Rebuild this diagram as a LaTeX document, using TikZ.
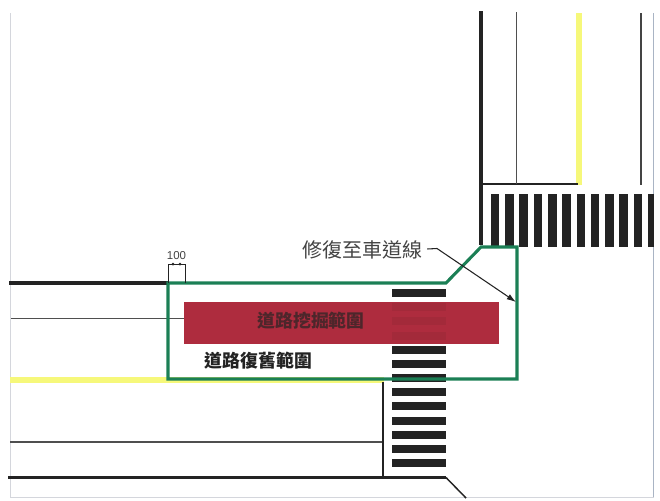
\documentclass[tikz,border=0pt]{standalone}
\usetikzlibrary{arrows.meta}
\usepackage{fontspec}
\newfontfamily\cjk{Noto Sans CJK TC}
\setsansfont{Liberation Sans}
\definecolor{grn}{HTML}{1B7F55}
\definecolor{roadred}{HTML}{AE2C3E}
\definecolor{band}{HTML}{A32A3A}
\definecolor{yel}{HTML}{F6F87A}
\definecolor{ink}{HTML}{232323}
\definecolor{framec}{HTML}{D4D6DC}
\definecolor{framer}{HTML}{A9B4C4}
\tikzset{
  thickroad/.style={draw=ink,line width=2.4pt},
  thinroad/.style={draw=ink!80,line width=0.9pt},
  yellowline/.style={draw=yel,line width=4.4pt},
  zebra/.style={fill=ink,draw=none},
  dimline/.style={draw=ink,line width=0.6pt},
  caption/.style={font=\cjk,text=ink,inner sep=0pt,anchor=center}
}
\begin{document}
\begin{tikzpicture}[x=0.75pt,y=-0.75pt]
\useasboundingbox (0,0) rectangle (660,500);
% frame
\draw[framec,line width=0.7pt] (10,13) -- (10,497) -- (653.5,497);
\draw[framer,line width=0.8pt] (653.5,13) -- (653.5,497);
% yellow
\draw[yellowline] (579,13) -- (579,185);
\draw[yellowline] (10,380) -- (384,380);
% upper road
\draw[thickroad] (481,11) -- (481,245);
\draw[draw=ink,line width=1.6pt] (481,184) -- (578,184);
\draw[thinroad] (516.5,12) -- (516.5,184);
\draw[draw=ink!85,line width=1.2pt] (641,13) -- (641,185);
% vertical zebra
\foreach \i in {0,...,10}{
  \fill[zebra] ({490.7+14.3*\i},194) rectangle ++(8.6,53);
}
\fill[zebra] (648,194) rectangle (653.5,247);
% left road
\draw[thickroad] (9,283) -- (168,283);
\draw[thinroad] (11,318.5) -- (184,318.5);
\draw[thinroad] (10,442) -- (383,442);
\draw[thickroad] (8,477.5) -- (446,477.5);
\draw[draw=ink,line width=1.1pt] (446,477.5) -- (466,498);
\draw[draw=ink,line width=2.2pt] (383,382) -- (383,477.5);
% horizontal zebra
\foreach \y in {293,350,364,378,392,406,421,435,449,463}{
  \fill[zebra] (392,\y-4) rectangle (446,\y+4);
}
% red zone
\node[fill=roadred,draw=none,minimum width=236.25pt,minimum height=31.5pt,inner sep=0pt] (zone) at (341.5,323) {};
\foreach \y in {307,321,336}{
  \fill[band] (392,\y-4) rectangle (446,\y+4);
}
% green
\draw[grn,line width=2.3pt,line join=miter] (168,283) -- (446,283) -- (481,247) -- (517,247) -- (517,379) -- (168,379) -- cycle;
% dimension
\coordinate (d1) at (168,283); \coordinate (d2) at (168,264); \coordinate (d3) at (185,264); \coordinate (d4) at (185,283);
\draw[dimline] (d1) -- (d2) -- (d3) -- (d4);
\fill[ink] (173,264) circle (1.5) (180,264) circle (1.5);
\node[font=\sffamily\fontsize{8.6pt}{9pt}\selectfont,text=ink!85,inner sep=0pt] (dimtxt) at (176.5,256) {100};
% labels
\node[caption,font=\cjk\fontsize{15pt}{16pt}\selectfont,text=ink!85] (repair) at (362,250) {修復至車道線};
\node[caption,font=\cjk\bfseries\fontsize{13.4pt}{15pt}\selectfont,text=ink!70!roadred] (dig) at (311,321) {道路挖掘範圍};
\node[caption,font=\cjk\bfseries\fontsize{13.4pt}{15pt}\selectfont] (restore) at (258.5,361) {道路復舊範圍};
% leader
\coordinate (lead) at (437,248.5);
\coordinate (tip) at (516,302);
\draw[draw=ink,line width=0.8pt,-{Latex[length=7pt,width=4.5pt]}] (repair.east) ++(5,-1) -- (lead) -- (tip);
\end{tikzpicture}
\end{document}
